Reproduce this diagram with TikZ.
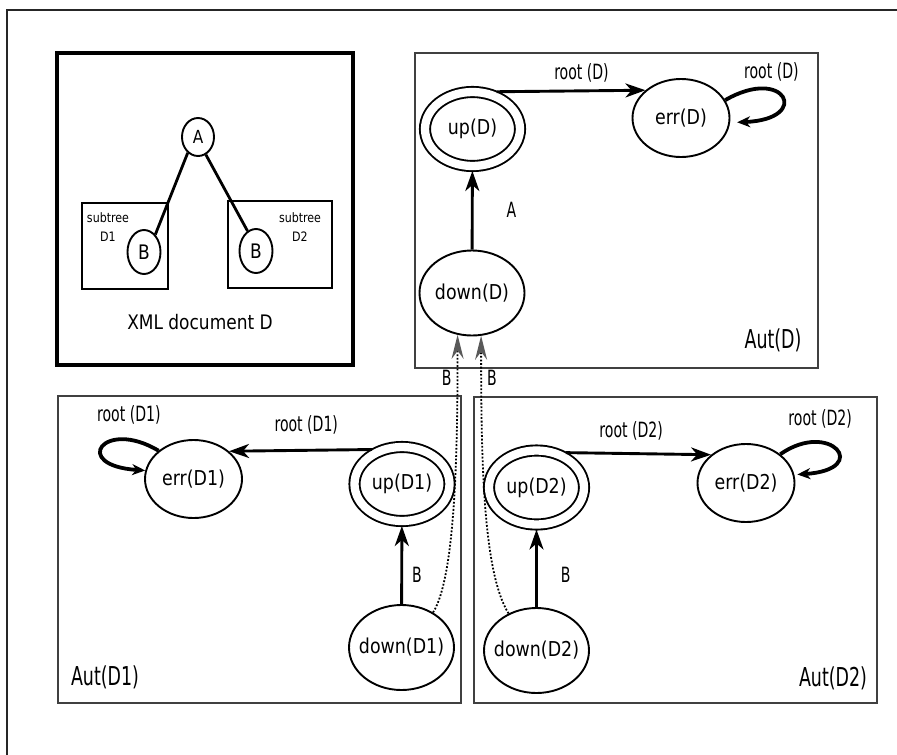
\documentclass[tikz,border=0pt]{standalone}
\usepackage{fontspec}
\setmainfont{DejaVu Sans}[FakeStretch=0.85]
\newfontfamily\narrowfont{DejaVu Sans}[FakeStretch=0.67]
\usetikzlibrary{shapes.geometric,arrows.meta}

\begin{document}
\begin{tikzpicture}
   [x=1pt,y=-1pt,
   every node/.style={inner sep=0pt},
   state/.style={draw,ellipse,line width=1.9pt,inner xsep=-20pt,
      minimum width=105pt,minimum height=85pt,font=\fontsize{20.5}{24}\selectfont},
   final/.style={state,double,double distance=8.3pt,minimum width=95pt,
      minimum height=74pt,outer sep=5pt},
   errstate/.style={state,minimum width=97pt,minimum height=78pt},
   treenode/.style={draw,ellipse,line width=1.9pt},
   trans/.style={line width=2.9pt,-{Stealth[length=20pt,width=14pt,inset=6pt]}},
   selfloop/.style={line width=3.8pt,-{Stealth[length=13pt,width=11pt,inset=4pt]}},
   link/.style={line width=1.8pt,dash pattern=on 1.8pt off 1.8pt,
      -{Stealth[length=24pt,width=12pt,inset=8pt,color=gray!70!black]}},
   autbox/.style={line width=1.2pt,black!75},
   lbl/.style={font=\narrowfont\fontsize{21}{24}\selectfont},
   autlbl/.style={font=\narrowfont\fontsize{26}{30}\selectfont}]

   \useasboundingbox (0,0) rectangle (897,755);
   \draw[line width=1.8pt,black!85] (7,755) -- (7,10) -- (897,10);

   % XML document
   \draw[line width=4.2pt] (57,53) rectangle (353,365);
   \draw[line width=1.5pt] (82,203) rectangle (168,289);
   \draw[line width=1.5pt] (228,201) rectangle (332,288);
   \node[treenode,minimum width=32pt,minimum height=38pt,font=\fontsize{18}{20}\selectfont]
      (A) at (198,137) {A};
   \node[treenode,minimum width=33pt,minimum height=44pt,font=\fontsize{20}{22}\selectfont]
      (B1) at (144,252) {B};
   \node[treenode,minimum width=33pt,minimum height=44pt,font=\fontsize{20}{22}\selectfont]
      (B2) at (256,251) {B};
   \draw[line width=2.8pt] (A.237) -- (B1.57);
   \draw[line width=2.8pt] (A.294) -- (B2.113);
   \node[align=center,font=\fontsize{13}{19}\selectfont] (sub1) at (108,227) {subtree\\D1};
   \node[align=center,font=\fontsize{13}{19}\selectfont] (sub2) at (300,227) {subtree\\D2};
   \node[font=\fontsize{20}{24}\selectfont] (xml) at (200,322) {XML document D};

   % Aut(D)
   \draw[autbox] (415,53) rectangle (818,368);
   \node[final]    (upD)   at (472.5,129) {up(D)};
   \node[errstate] (errD)  at (681,118)   {err(D)};
   \node[state]    (downD) at (472,293)   {down(D)};
   \draw[trans] (downD) -- (upD) node[lbl,midway,right=33pt] (lA) {A};
   \draw[trans] (upD.57) -- (errD.142) node[lbl,pos=0.57,above=7pt] (lrootD) {root (D)};
   \draw[selfloop] (errD.22) .. controls +(60,-35) and +(75,-3) .. ([xshift=7pt]errD.-5)
      node[lbl,pos=0.33,above=6pt] (lloopD) {root (D)};
   \node[autlbl] (autD) at (773,340) {Aut(D)};

   % Aut(D1)
   \draw[autbox] (58,396) rectangle (461,703);
   \node[errstate] (errDone)  at (193.5,479)   {err(D1)};
   \node[final]    (upDone)   at (402,484)     {up(D1)};
   \node[state]    (downDone) at (401.5,647.5) {down(D1)};
   \draw[trans] (upDone.131) -- (errDone.38) node[lbl,pos=0.46,above=15pt] (lrootDone) {root (D1)};
   \draw[selfloop] (errDone.141) .. controls +(-55,-33) and +(-75,-5) .. (errDone.170)
      node[lbl,pos=0.2,above=13pt] (lloopDone) {root (D1)};
   \draw[trans] (downDone) -- (upDone) node[lbl,pos=0.38,right=9pt] (lBone) {B};
   \node[autlbl] (autDone) at (105,677) {Aut(D1)};

   % Aut(D2)
   \draw[autbox] (474,397) rectangle (877,703);
   \node[final]    (upDtwo)   at (536.5,487.5) {up(D2)};
   \node[errstate] (errDtwo)  at (746,483)     {err(D2)};
   \node[state]    (downDtwo) at (536.5,650.5) {down(D2)};
   \draw[trans] (upDtwo.50) -- (errDtwo.141) node[lbl,pos=0.45,above=12pt] (lrootDtwo) {root (D2)};
   \draw[selfloop] (errDtwo.40) .. controls +(50,-35) and +(75,-5) .. ([xshift=3pt]errDtwo.10)
      node[lbl,pos=0.3,above=12pt] (lloopDtwo) {root (D2)};
   \draw[trans] (downDtwo) -- (upDtwo) node[lbl,pos=0.42,right=23pt] (lBtwo) {B};
   \node[autlbl] (autDtwo) at (833,678) {Aut(D2)};

   % links to Aut(D)
   \draw[link] (downDone.48) .. controls +(22,-35) and +(0,120) .. (downD.251)
      node[lbl,pos=0.88,left=5pt] (linkone) {B};
   \draw[link] (downDtwo.127) .. controls +(-25,-40) and +(0,130) .. (downD.-78)
      node[lbl,pos=0.89,right=5pt] (linktwo) {B};
\end{tikzpicture}
\end{document}
